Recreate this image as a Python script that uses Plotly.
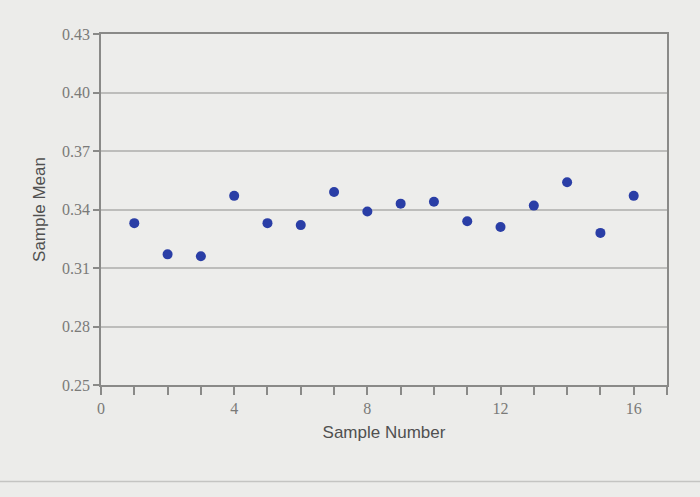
import plotly.graph_objects as go

sample_number = list(range(1, 17))
sample_mean = [0.333, 0.317, 0.316, 0.347, 0.333, 0.332, 0.349, 0.339,
               0.343, 0.344, 0.334, 0.331, 0.342, 0.354, 0.328, 0.347]
x_title = "Sample Number"
y_title = "Sample Mean"

fig = go.Figure()
fig.add_trace(go.Scatter(
    x=sample_number, y=sample_mean, mode="markers",
    marker=dict(color="#2a3ea6", size=10),
    showlegend=False,
))

axis_col = "#8a8a88"
grid_col = "#bdbdbb"
tick_font = dict(family="Liberation Serif, DejaVu Serif, serif", size=16, color="#7a7a78")

fig.update_layout(
    width=700, height=497,
    paper_bgcolor="#ececea",
    plot_bgcolor="#ededeb",
    margin=dict(l=101, r=33, t=34, b=112),
    xaxis=dict(
        range=[0, 17], tick0=0, dtick=4,
        ticks="outside", ticklen=8, tickwidth=1.5, tickcolor=axis_col,
        minor=dict(dtick=1, ticks="outside", ticklen=8, tickwidth=1.5, tickcolor=axis_col),
        showgrid=False, zeroline=False,
        showline=True, linecolor=axis_col, linewidth=1.8, mirror=True,
        tickfont=tick_font,
        title=dict(text=x_title, font=dict(family="Liberation Sans, Arial, sans-serif", size=17, color="#505050"), standoff=10),
    ),
    yaxis=dict(
        range=[0.25, 0.43], tick0=0.25, dtick=0.03, tickformat=".2f",
        ticks="outside", ticklen=6, tickwidth=1.5, tickcolor=axis_col,
        showgrid=True, gridcolor=grid_col, gridwidth=1.5, zeroline=False,
        showline=True, linecolor=axis_col, linewidth=1.8, mirror=True,
        tickfont=tick_font,
        title=dict(text=y_title, font=dict(family="Liberation Sans, Arial, sans-serif", size=17, color="#505050"), standoff=12),
    ),
)
fig.add_shape(type="line", xref="paper", yref="paper", x0=-0.2, x1=1.1, y0=-0.275, y1=-0.275,
              line=dict(color="#c4c4c2", width=1.5))

fig.write_html("out.html", config={"displayModeBar": False},
               post_script="document.body.style.margin='0';")
